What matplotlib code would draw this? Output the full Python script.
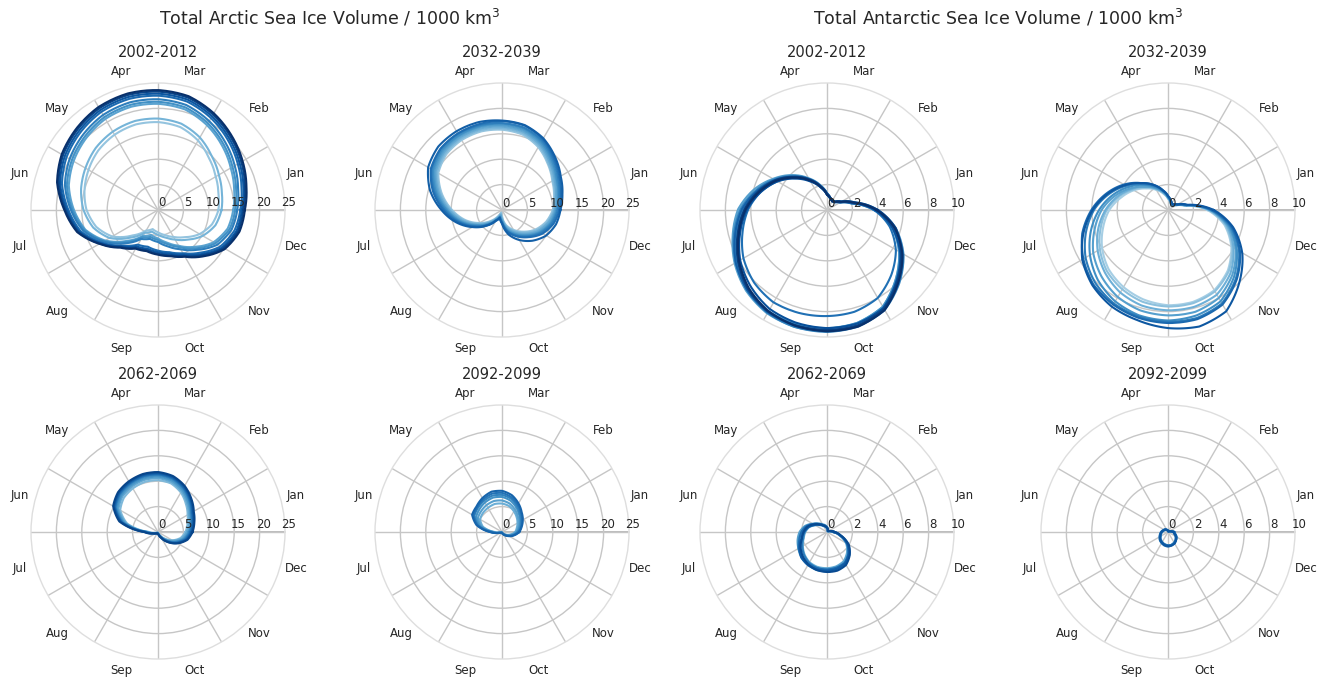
import numpy as np
import matplotlib
matplotlib.use('Agg')
import matplotlib.pyplot as plt
from matplotlib.transforms import offset_copy

# Month names shown around each polar panel
months = ['Jan', 'Feb', 'Mar', 'Apr', 'May', 'Jun',
          'Jul', 'Aug', 'Sep', 'Oct', 'Nov', 'Dec']

# Sample days of the year (twice a month)
sample_days = [0, 15, 30, 46, 61, 76, 91, 106, 122, 137, 152, 167,
               182, 198, 213, 228, 243, 258, 274, 289, 304, 319, 334, 350]

period_titles = ['2002-2012', '2032-2039', '2062-2069', '2092-2099']
arctic_rticks = [0, 5, 10, 15, 20, 25]
antarctic_rticks = [0, 2, 4, 6, 8, 10]

# Arctic sea ice volume, 1000 km^3, one row per year
arctic_2002_2012 = [
    [17.1, 18.0, 19.2, 20.6, 22.0, 23.2, 23.6, 23.7, 23.4, 22.7, 21.9, 20.6, 18.5, 16.5, 13.3, 10.5, 8.8, 8.4, 8.8, 9.4, 10.6, 12.8, 15.2, 16.6],
    [16.8, 17.7, 18.9, 20.3, 21.7, 22.9, 23.3, 23.4, 23.1, 22.4, 21.6, 20.3, 18.3, 16.3, 13.2, 10.3, 8.6, 8.2, 8.6, 9.2, 10.4, 12.5, 14.9, 16.3],
    [16.5, 17.4, 18.5, 19.9, 21.3, 22.5, 22.9, 23.0, 22.7, 22.0, 21.2, 20.0, 18.0, 16.1, 13.0, 10.1, 8.3, 7.9, 8.3, 8.9, 10.1, 12.2, 14.6, 16.0],
    [16.2, 17.0, 18.1, 19.5, 20.9, 22.1, 22.5, 22.6, 22.3, 21.6, 20.8, 19.6, 17.7, 15.8, 12.8, 9.9, 7.9, 7.5, 8.0, 8.6, 9.8, 11.8, 14.2, 15.6],
    [15.6, 16.3, 17.4, 18.8, 20.2, 21.4, 21.8, 21.9, 21.6, 20.9, 20.1, 19.0, 17.2, 15.3, 12.4, 9.3, 6.6, 5.9, 6.3, 7.4, 8.9, 11.0, 13.5, 15.0],
    [15.2, 15.9, 16.9, 18.3, 19.7, 20.9, 21.3, 21.4, 21.1, 20.4, 19.6, 18.6, 16.9, 15.0, 12.2, 8.9, 6.2, 5.5, 5.9, 6.9, 8.4, 10.6, 13.0, 14.6],
    [14.8, 15.5, 16.5, 17.9, 19.3, 20.5, 20.9, 21.0, 20.7, 20.0, 19.2, 18.2, 16.6, 14.8, 12.0, 8.6, 5.9, 5.1, 5.6, 6.6, 8.1, 10.2, 12.6, 14.2],
    [12.5, 13.0, 13.8, 15.0, 16.5, 17.6, 18.0, 18.1, 17.8, 17.3, 16.5, 15.7, 14.7, 13.2, 11.0, 7.7, 5.2, 4.4, 4.9, 5.6, 6.7, 8.2, 10.1, 11.7],
    [11.9, 12.3, 13.1, 14.3, 15.8, 16.9, 17.3, 17.4, 17.1, 16.6, 15.8, 15.0, 14.1, 12.6, 10.4, 7.1, 4.7, 3.9, 4.4, 5.1, 6.1, 7.5, 9.4, 11.0],
]
arctic_2032_2039 = [
    [11.5, 12.3, 13.3, 14.8, 16.3, 17.3, 17.6, 17.9, 17.9, 17.7, 16.8, 14.7, 12.0, 9.3, 6.7, 4.4, 2.5, 1.6, 2.7, 5.0, 6.8, 8.5, 10.0, 11.0],
    [11.3, 12.0, 13.0, 14.5, 16.1, 17.2, 17.5, 17.5, 17.4, 17.1, 16.2, 14.1, 11.6, 9.0, 6.5, 4.3, 2.4, 1.5, 2.5, 4.5, 6.0, 7.5, 9.2, 10.5],
    [11.0, 11.7, 12.7, 14.2, 15.8, 16.8, 17.1, 17.3, 17.3, 17.0, 16.0, 13.8, 11.3, 8.8, 6.3, 4.2, 2.4, 1.5, 2.5, 4.4, 5.8, 7.3, 8.9, 10.2],
    [10.8, 11.5, 12.4, 13.9, 15.5, 16.6, 17.0, 17.1, 17.0, 16.7, 15.7, 13.5, 11.0, 8.6, 6.1, 4.0, 2.3, 1.4, 2.3, 4.2, 5.6, 7.1, 8.7, 10.0],
    [10.6, 11.3, 12.2, 13.6, 15.2, 16.3, 16.7, 16.9, 16.8, 16.4, 15.4, 13.2, 10.8, 8.4, 5.9, 3.8, 2.1, 1.2, 2.1, 4.0, 5.4, 6.9, 8.5, 9.8],
    [10.4, 11.0, 11.9, 13.3, 14.9, 16.0, 16.4, 16.6, 16.5, 16.1, 15.1, 12.9, 10.5, 8.1, 5.7, 3.6, 1.9, 1.0, 1.9, 3.7, 5.1, 6.6, 8.2, 9.5],
    [10.2, 10.8, 11.6, 13.0, 14.6, 15.7, 16.1, 16.3, 16.2, 15.8, 14.8, 12.6, 10.2, 7.8, 5.4, 3.3, 1.6, 0.8, 1.6, 3.4, 4.8, 6.3, 7.9, 9.3],
    [10.0, 10.6, 11.4, 12.8, 14.3, 15.4, 15.8, 16.0, 15.9, 15.5, 14.5, 12.3, 9.9, 7.5, 5.1, 3.0, 1.3, 0.5, 1.3, 3.1, 4.5, 6.0, 7.6, 9.0],
]
arctic_2062_2069 = [
    [6.8, 7.4, 8.1, 9.3, 10.5, 11.4, 11.8, 11.8, 11.5, 11.1, 10.2, 7.9, 2.8, 1.1, 0.6, 0.4, 0.3, 0.3, 0.4, 0.6, 1.4, 2.8, 4.4, 6.0],
    [6.6, 7.2, 7.9, 9.1, 10.3, 11.2, 11.6, 11.6, 11.3, 10.9, 10.0, 7.6, 2.6, 1.0, 0.5, 0.4, 0.3, 0.3, 0.4, 0.6, 1.3, 2.7, 4.3, 5.8],
    [6.4, 7.0, 7.7, 8.9, 10.1, 11.0, 11.4, 11.4, 11.1, 10.7, 9.8, 7.4, 2.5, 0.9, 0.5, 0.3, 0.3, 0.3, 0.3, 0.5, 1.2, 2.5, 4.1, 5.6],
    [6.2, 6.8, 7.5, 8.7, 9.9, 10.8, 11.2, 11.2, 10.9, 10.5, 9.6, 7.2, 2.3, 0.8, 0.4, 0.3, 0.2, 0.2, 0.3, 0.5, 1.1, 2.4, 3.9, 5.4],
    [6.0, 6.6, 7.3, 8.4, 9.6, 10.5, 10.9, 10.9, 10.6, 10.2, 9.3, 6.9, 2.2, 0.8, 0.4, 0.3, 0.2, 0.2, 0.3, 0.4, 1.0, 2.2, 3.7, 5.2],
    [5.7, 6.3, 7.0, 8.1, 9.3, 10.2, 10.6, 10.6, 10.3, 9.9, 9.0, 6.6, 2.0, 0.7, 0.3, 0.2, 0.2, 0.2, 0.2, 0.4, 0.9, 2.0, 3.4, 4.9],
    [5.4, 6.0, 6.7, 7.8, 9.0, 9.9, 10.2, 10.2, 9.9, 9.5, 8.6, 6.3, 1.8, 0.6, 0.3, 0.2, 0.1, 0.1, 0.2, 0.3, 0.8, 1.8, 3.2, 4.6],
]
arctic_2092_2099 = [
    [3.4, 4.0, 4.7, 5.5, 6.5, 7.5, 8.1, 8.2, 7.7, 7.1, 6.8, 5.2, 2.4, 0.6, 0.3, 0.2, 0.2, 0.2, 0.2, 0.3, 0.5, 0.9, 1.6, 2.5],
    [3.3, 3.9, 4.5, 5.3, 6.2, 7.1, 7.7, 7.8, 7.4, 6.9, 6.5, 5.0, 2.3, 0.6, 0.3, 0.2, 0.2, 0.2, 0.2, 0.3, 0.5, 0.9, 1.5, 2.4],
    [3.1, 3.7, 4.3, 5.0, 5.9, 6.8, 7.3, 7.4, 7.1, 6.7, 6.3, 4.8, 2.1, 0.5, 0.2, 0.1, 0.1, 0.1, 0.1, 0.2, 0.4, 0.8, 1.4, 2.3],
    [3.0, 3.5, 4.1, 4.8, 5.6, 6.4, 6.9, 7.0, 6.7, 6.3, 5.9, 4.5, 1.9, 0.5, 0.2, 0.1, 0.1, 0.1, 0.1, 0.2, 0.4, 0.8, 1.3, 2.2],
    [2.8, 3.3, 3.8, 4.4, 5.1, 5.8, 6.2, 6.3, 6.1, 5.8, 5.5, 4.2, 1.7, 0.4, 0.2, 0.1, 0.1, 0.1, 0.1, 0.2, 0.3, 0.7, 1.2, 2.0],
    [2.6, 3.0, 3.5, 4.1, 4.7, 5.3, 5.6, 5.7, 5.5, 5.3, 5.0, 3.9, 1.5, 0.4, 0.1, 0.1, 0.1, 0.1, 0.1, 0.1, 0.3, 0.6, 1.1, 1.8],
]

# Antarctic sea ice volume, 1000 km^3, one row per year
antarctic_2002_2012 = [
    [3.9, 2.2, 1.3, 0.9, 0.8, 1.0, 1.2, 1.85, 2.7, 3.6, 4.6, 5.5, 6.4, 7.2, 8.0, 8.7, 9.2, 9.45, 9.55, 9.5, 9.1, 8.0, 6.9, 5.5],
    [4.0, 2.3, 1.3, 0.9, 0.8, 1.0, 1.25, 1.9, 2.8, 3.7, 4.7, 5.6, 6.5, 7.3, 8.1, 8.8, 9.25, 9.4, 9.45, 9.4, 9.0, 7.9, 6.8, 5.6],
    [3.8, 2.1, 1.2, 0.85, 0.8, 0.95, 1.2, 1.8, 2.6, 3.5, 4.5, 5.4, 6.3, 7.1, 7.9, 8.5, 9.0, 9.2, 9.3, 9.25, 8.9, 7.8, 6.7, 5.3],
    [3.9, 2.2, 1.3, 0.9, 0.85, 1.0, 1.3, 1.9, 2.8, 3.7, 4.7, 5.7, 6.7, 7.5, 8.3, 8.9, 9.3, 9.45, 9.5, 9.45, 9.05, 8.0, 6.9, 5.5],
    [3.7, 2.0, 1.2, 0.85, 0.8, 0.95, 1.2, 1.8, 2.7, 3.6, 4.5, 5.4, 6.2, 6.9, 7.6, 8.1, 8.4, 8.4, 8.35, 8.3, 8.0, 7.2, 6.3, 5.1],
    [4.0, 2.3, 1.35, 0.95, 0.85, 1.0, 1.3, 1.95, 2.85, 3.8, 4.8, 5.8, 6.8, 7.6, 8.3, 8.9, 9.35, 9.55, 9.6, 9.5, 9.1, 8.1, 7.0, 5.6],
    [3.8, 2.1, 1.25, 0.9, 0.8, 0.95, 1.2, 1.85, 2.7, 3.6, 4.6, 5.6, 6.6, 7.4, 8.2, 8.8, 9.2, 9.3, 9.3, 9.2, 8.8, 7.7, 6.6, 5.3],
    [3.8, 2.1, 1.3, 0.9, 0.85, 1.0, 1.3, 2.0, 2.9, 3.9, 4.9, 6.0, 7.0, 7.7, 8.4, 9.0, 9.4, 9.55, 9.5, 9.3, 8.9, 7.8, 6.7, 5.4],
    [3.7, 2.0, 1.2, 0.85, 0.8, 0.95, 1.25, 1.9, 2.8, 3.8, 4.8, 5.8, 6.9, 7.6, 8.3, 8.9, 9.3, 9.4, 9.35, 9.2, 8.8, 7.7, 6.6, 5.3],
]
antarctic_2032_2039 = [
    [3.6, 1.6, 0.9, 0.6, 0.6, 0.8, 1.1, 1.6, 2.3, 3.0, 3.9, 4.9, 5.9, 6.9, 7.8, 8.4, 8.8, 9.0, 9.3, 9.5, 9.2, 8.0, 6.8, 5.3],
    [3.5, 1.5, 0.85, 0.6, 0.6, 0.8, 1.1, 1.6, 2.3, 3.0, 4.0, 5.0, 6.0, 7.0, 7.7, 8.3, 8.6, 8.8, 8.9, 8.9, 8.6, 7.7, 6.6, 5.2],
    [3.4, 1.5, 0.85, 0.55, 0.55, 0.75, 1.05, 1.55, 2.2, 2.9, 3.8, 4.8, 5.8, 6.7, 7.5, 8.1, 8.5, 8.7, 8.8, 8.8, 8.5, 7.6, 6.5, 5.1],
    [3.4, 1.5, 0.8, 0.55, 0.55, 0.75, 1.0, 1.5, 2.1, 2.8, 3.6, 4.5, 5.4, 6.3, 7.1, 7.8, 8.3, 8.6, 8.7, 8.6, 8.3, 7.4, 6.3, 5.0],
    [3.3, 1.4, 0.8, 0.5, 0.5, 0.7, 1.0, 1.45, 2.0, 2.6, 3.4, 4.3, 5.2, 6.0, 6.8, 7.4, 7.9, 8.2, 8.3, 8.3, 8.0, 7.2, 6.2, 4.9],
    [3.3, 1.4, 0.8, 0.5, 0.5, 0.7, 0.95, 1.4, 2.0, 2.6, 3.3, 4.1, 4.9, 5.7, 6.4, 7.0, 7.5, 7.8, 7.9, 7.9, 7.7, 7.0, 6.0, 4.8],
    [3.2, 1.4, 0.75, 0.5, 0.5, 0.65, 0.9, 1.35, 1.9, 2.5, 3.2, 4.0, 4.8, 5.5, 6.2, 6.8, 7.2, 7.5, 7.6, 7.6, 7.4, 6.8, 5.9, 4.7],
    [3.1, 1.3, 0.75, 0.45, 0.45, 0.65, 0.9, 1.3, 1.85, 2.4, 3.1, 3.8, 4.6, 5.3, 6.0, 6.6, 7.0, 7.3, 7.5, 7.5, 7.3, 6.7, 5.8, 4.6],
]
antarctic_2062_2069 = [
    [0.6, 0.3, 0.15, 0.1, 0.15, 0.25, 0.35, 0.45, 0.6, 0.85, 1.2, 1.6, 1.85, 2.05, 2.4, 2.7, 2.95, 3.1, 3.15, 3.15, 3.0, 2.55, 2.0, 1.15],
    [0.55, 0.25, 0.15, 0.1, 0.1, 0.2, 0.3, 0.45, 0.6, 0.8, 1.1, 1.5, 1.8, 2.1, 2.5, 2.85, 3.0, 3.05, 3.05, 3.0, 2.85, 2.45, 1.9, 1.1],
    [0.6, 0.3, 0.15, 0.1, 0.15, 0.25, 0.35, 0.5, 0.65, 0.9, 1.25, 1.7, 2.0, 2.25, 2.55, 2.8, 2.9, 2.95, 2.95, 2.9, 2.8, 2.4, 1.85, 1.1],
    [0.5, 0.25, 0.1, 0.1, 0.1, 0.2, 0.3, 0.4, 0.55, 0.8, 1.1, 1.5, 1.75, 1.95, 2.25, 2.55, 2.8, 2.95, 3.0, 3.0, 2.85, 2.4, 1.85, 1.05],
    [0.5, 0.25, 0.1, 0.1, 0.1, 0.2, 0.3, 0.45, 0.6, 0.85, 1.2, 1.65, 2.0, 2.3, 2.6, 2.85, 3.0, 3.1, 3.1, 3.05, 2.9, 2.5, 1.95, 1.1],
    [0.55, 0.25, 0.15, 0.1, 0.15, 0.25, 0.4, 0.55, 0.7, 0.95, 1.3, 1.8, 2.15, 2.4, 2.6, 2.75, 2.85, 2.9, 2.9, 2.85, 2.7, 2.3, 1.8, 1.05],
    [0.45, 0.2, 0.1, 0.05, 0.1, 0.2, 0.3, 0.4, 0.55, 0.75, 1.05, 1.45, 1.7, 1.9, 2.2, 2.5, 2.75, 2.85, 2.85, 2.8, 2.65, 2.25, 1.75, 1.0],
]
antarctic_2092_2099 = [
    [0.45, 0.2, 0.1, 0.05, 0.05, 0.05, 0.1, 0.15, 0.2, 0.3, 0.35, 0.4, 0.5, 0.6, 0.7, 0.85, 0.95, 1.05, 1.1, 1.1, 1.05, 0.9, 0.75, 0.55],
    [0.4, 0.2, 0.1, 0.05, 0.05, 0.05, 0.1, 0.15, 0.2, 0.25, 0.3, 0.4, 0.5, 0.6, 0.75, 0.9, 1.0, 1.1, 1.15, 1.1, 1.0, 0.85, 0.7, 0.5],
    [0.5, 0.25, 0.1, 0.05, 0.05, 0.1, 0.1, 0.15, 0.2, 0.3, 0.35, 0.45, 0.55, 0.65, 0.75, 0.85, 0.95, 1.0, 1.05, 1.05, 1.0, 0.9, 0.8, 0.6],
    [0.4, 0.2, 0.1, 0.05, 0.05, 0.05, 0.1, 0.1, 0.15, 0.2, 0.3, 0.35, 0.45, 0.55, 0.65, 0.8, 0.9, 1.0, 1.05, 1.05, 0.95, 0.85, 0.7, 0.5],
    [0.45, 0.2, 0.1, 0.05, 0.05, 0.05, 0.1, 0.15, 0.2, 0.25, 0.35, 0.4, 0.5, 0.65, 0.75, 0.9, 1.0, 1.05, 1.1, 1.05, 1.0, 0.9, 0.75, 0.55],
]

W, H = 1327, 682
DIAM = 254
TEXT = '#262626'

fig = plt.figure(figsize=(W / 100, H / 100), dpi=100)
fig.patch.set_facecolor('white')

theta = np.radians(np.array(sample_days + [365]) / 365.0 * 360.0)

# (column left px, row top px, title, ticks, data, darkest shade, lightest shade)
panels = [
    (31, 83, period_titles[0], arctic_rticks, arctic_2002_2012, 1.0, 0.4),
    (375, 83, period_titles[1], arctic_rticks, arctic_2032_2039, 0.82, 0.4),
    (31, 405, period_titles[2], arctic_rticks, arctic_2062_2069, 0.92, 0.45),
    (375, 405, period_titles[3], arctic_rticks, arctic_2092_2099, 0.8, 0.5),
    (700, 83, period_titles[0], antarctic_rticks, antarctic_2002_2012, 1.0, 0.5),
    (1041, 83, period_titles[1], antarctic_rticks, antarctic_2032_2039, 0.85, 0.35),
    (700, 405, period_titles[2], antarctic_rticks, antarctic_2062_2069, 0.9, 0.5),
    (1041, 405, period_titles[3], antarctic_rticks, antarctic_2092_2099, 0.85, 0.6),
]

for left, top, title, rticks, years, dark, light in panels:
    rect = [left / W, 1 - (top + DIAM) / H, DIAM / W, DIAM / H]
    ax = fig.add_axes(rect, projection='polar')
    rmax = rticks[-1]
    ax.set_ylim(0, rmax)

    ax.set_xticks(np.radians(np.arange(0, 360, 30)))
    ax.set_xticklabels([])
    ax.set_yticks(rticks[1:-1])
    ax.set_yticklabels([])
    ax.tick_params(length=0)
    ax.grid(True, color='#c6c6c6', lw=1.0)
    ax.spines['polar'].set_color('#dedede')
    ax.spines['polar'].set_linewidth(1.0)
    ax.axvline(0, color='#aaaaaa', lw=1.1, zorder=1)

    # month names in the middle of each 30 degree sector
    for i, m in enumerate(months):
        ax.text(np.radians(15 + 30 * i), rmax * 1.125, m, ha='center',
                va='center', fontsize=8.5, color=TEXT, clip_on=False)

    # radial tick labels along the 0 degree spoke
    trans = offset_copy(ax.transData, fig=fig, x=4, y=7, units='dots')
    for r in rticks:
        ax.text(0, r, str(r), transform=trans, ha='center', va='center',
                fontsize=8.5, color=TEXT, clip_on=False, zorder=5)

    ax.text(0.5, 1.122, title, transform=ax.transAxes, ha='center',
            va='center', fontsize=10.5, color=TEXT)

    shades = plt.cm.Blues(np.linspace(dark, light, len(years)))
    for vals, c in reversed(list(zip(years, shades))):
        line, = ax.plot(theta, vals + vals[:1], color=c, lw=1.5, zorder=3)
        # draw each segment along the polar grid instead of as a chord
        line.get_path()._interpolation_steps = 16

fig.text(330 / W, 1 - 18 / H, 'Total Arctic Sea Ice Volume / 1000 km$^3$',
         ha='center', va='center', fontsize=12.5, color=TEXT)
fig.text(998 / W, 1 - 18 / H, 'Total Antarctic Sea Ice Volume / 1000 km$^3$',
         ha='center', va='center', fontsize=12.5, color=TEXT)

fig.savefig('out.png', dpi=100, facecolor='white')
